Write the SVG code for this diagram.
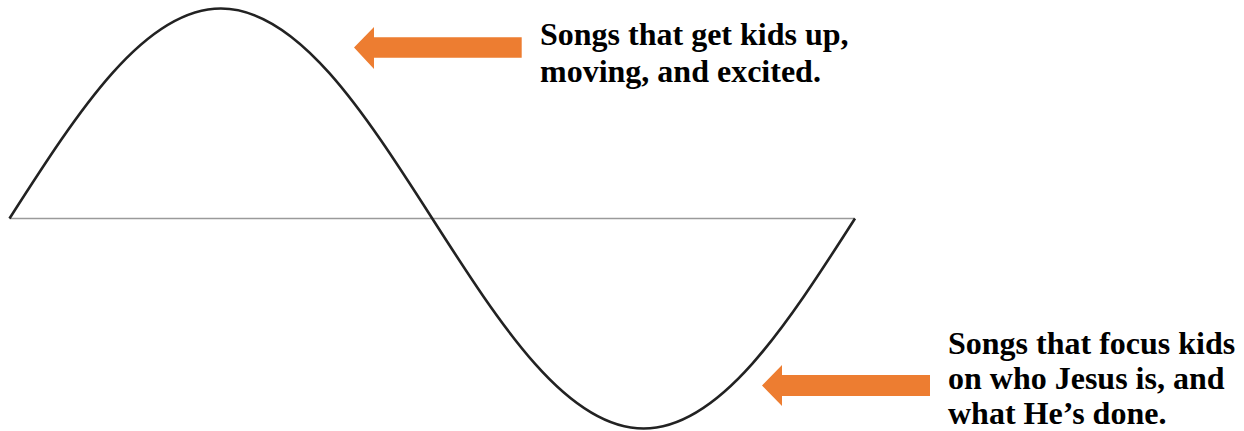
<svg xmlns="http://www.w3.org/2000/svg" width="1244" height="431" viewBox="0 0 1244 431">
<style>
.lbl{font-family:"Liberation Serif","Times New Roman",serif;font-weight:bold;font-size:32px;fill:#000}
.arrow{fill:#ED7D31}
</style>
<rect width="1244" height="431" fill="#fff"/>
<g id="connectors">
<line id="axis" x1="9.5" y1="218.5" x2="855" y2="218.5" stroke="#9a9a9a" stroke-width="1.6"/>
<path id="wave" d="M9.5,218.5 C78.44,110.92 144.38,8.5 220.875,8.5 C297.37,8.5 363.31,110.92 432.25,218.5 C501.19,326.08 567.13,428.5 643.625,428.5 C720.12,428.5 786.06,326.08 855,218.5" fill="none" stroke="#222" stroke-width="2.6"/>
</g>
<g id="arrow-top">
<polygon class="arrow" points="354,47.5 374,27 374,37.3 521.7,37.3 521.7,57.7 374,57.7 374,69"/>
</g>
<g id="arrow-bottom">
<polygon class="arrow" points="762,385.5 782,365 782,375 930,375 930,396 782,396 782,406"/>
</g>
<g id="label-top">
<text class="lbl" x="540" y="45">Songs that get kids up,</text>
<text class="lbl" x="540" y="82">moving, and excited.</text>
</g>
<g id="label-bottom">
<text class="lbl" x="948" y="354">Songs that focus kids</text>
<text class="lbl" x="948" y="389">on who Jesus is, and</text>
<text class="lbl" x="948" y="424">what He’s done.</text>
</g>
</svg>
